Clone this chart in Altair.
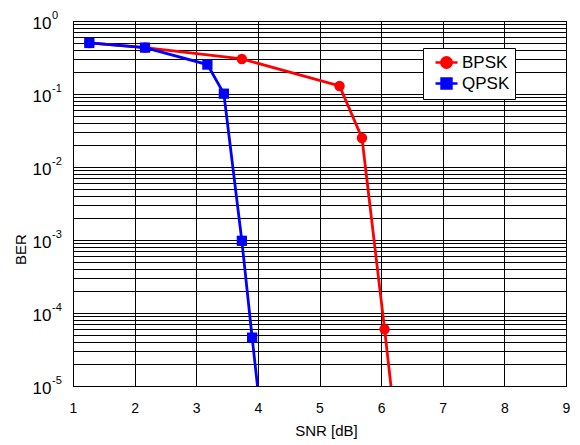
import altair as alt
import pandas as pd

# ---- data ----
series_names = ["BPSK", "QPSK"]
series_colors = ["#ff0000", "#0000ff"]

bpsk_snr = [1.265, 2.169, 3.740, 5.325, 5.689, 6.056, 6.293]
bpsk_ber = [0.50, 0.432, 0.302, 0.129, 0.0250, 6.0e-5, 1.0e-6]

qpsk_snr = [1.265, 2.169, 3.181, 3.448, 3.740, 3.907, 4.125]
qpsk_ber = [0.50, 0.432, 0.253, 0.101, 9.75e-4, 4.6e-5, 1.0e-6]

x_ticks = [1, 2, 3, 4, 5, 6, 7, 8, 9]
decades = [1.0, 0.1, 0.01, 0.001, 0.0001, 0.00001]
exponents = ["0", "-1", "-2", "-3", "-4", "-5"]
y_grid = sorted([m * 10.0 ** k for k in range(-5, 0) for m in range(1, 10)] + [1.0])

# legend symbols: line with marker (custom SVG paths, unit square -1..1)
legend_paths = [
    "M-1.375,0H1.375M0.65,0A0.65,0.65,0,1,1,-0.65,0A0.65,0.65,0,1,1,0.65,0Z",
    "M-1.375,0H1.375M-0.62,-0.62H0.62V0.62H-0.62Z",
]

# ---- tables ----
rows = []
for name, xs, ys in [("BPSK", bpsk_snr, bpsk_ber), ("QPSK", qpsk_snr, qpsk_ber)]:
    for i, (xv, yv) in enumerate(zip(xs, ys)):
        rows.append({"series": name, "snr": xv, "ber": yv, "idx": i})
df = pd.DataFrame(rows)
exp_df = pd.DataFrame({"ber": decades, "exp": exponents})

FONT = "Liberation Sans"

xscale = alt.Scale(domain=[1, 9], nice=False, zero=False)
yscale = alt.Scale(type="log", domain=[1e-5, 1], nice=False)
cscale = alt.Scale(domain=series_names, range=series_colors)

xaxis = alt.Axis(
    values=x_ticks, title="SNR [dB]", grid=True, gridColor="black", gridOpacity=1,
    gridWidth=1, ticks=False, tickSize=0, labelFontSize=14, labelPadding=15,
    labelColor="black", labelFont=FONT, domainColor="black", titleFont=FONT,
    titleFontSize=15, titleFontWeight="normal", titleColor="black",
    titleX=253, titleY=49, titleBaseline="alphabetic", labelFlush=False,
)

is_decade = "abs(log(datum.value)/LN10 - round(log(datum.value)/LN10)) < 1e-6"
yaxis = alt.Axis(
    values=y_grid, labelExpr=f"{is_decade} ? '10' : ''", grid=True, gridColor="black",
    gridOpacity=1, gridWidth=1, ticks=False, tickSize=0, labelFontSize=17,
    labelPadding=22, labelBaseline="middle", labelOffset=2, labelOverlap=False,
    labelFlush=False, labelColor="black", labelFont=FONT, domainColor="black",
    title="BER", titleFont=FONT, titleFontSize=15, titleFontWeight="normal",
    titleColor="black", titleAngle=270, titleX=-53, titleY=228,
    titleAlign="center", titleBaseline="middle",
)

legend = alt.Legend(
    title=None, orient="none", legendX=350, legendY=27,
    fillColor="white", strokeColor="black", padding=5, cornerRadius=0,
    labelFontSize=17, labelFont=FONT, labelColor="black", labelOffset=6,
    symbolSize=256, rowPadding=0, symbolOffset=9, symbolStrokeWidth=2.5,
    symbolOpacity=1,
)

base = alt.Chart(df)
X = alt.X("snr:Q", scale=xscale, axis=xaxis)
Y = alt.Y("ber:Q", scale=yscale, axis=yaxis)

def series_layers(name, color, shape, size):
    sub = base.transform_filter(f"datum.series === '{name}'")
    ln = sub.mark_line(strokeWidth=2.8, clip=True, color=color).encode(x=X, y=Y, order="idx:Q")
    pt = sub.mark_point(shape=shape, filled=True, size=size, opacity=1, color=color, clip=True).encode(x=X, y=Y)
    return [ln, pt]

# invisible layer that only carries the legend
legend_layer = base.mark_point(filled=True, size=256, clip=True, strokeWidth=2.5).encode(
    x=X, y=Y,
    opacity=alt.value(0),
    color=alt.Color("series:N", scale=cscale, legend=legend),
    stroke=alt.Stroke("series:N", scale=cscale, legend=legend),
    shape=alt.Shape("series:N", scale=alt.Scale(domain=series_names, range=legend_paths), legend=legend),
)

exps = alt.Chart(exp_df).mark_text(
    align="left", baseline="alphabetic", dx=-21, dy=-2.5, fontSize=11, font=FONT, color="black"
).encode(
    x=alt.value(0),
    y=Y,
    text="exp:N",
)

layers = [legend_layer]
layers += series_layers("BPSK", series_colors[0], "circle", 110)
layers += series_layers("QPSK", series_colors[1], "square", 105)
layers.append(exps)

chart = alt.layer(*layers).properties(
    width=493, height=365,
    autosize=alt.AutoSizeParams(type="none"),
    padding={"left": 65, "top": 13, "right": 6, "bottom": 58},
    background="white",
).configure_view(stroke="black", strokeWidth=1)

chart.save("out.html", embed_options={"renderer": "svg", "actions": False})
